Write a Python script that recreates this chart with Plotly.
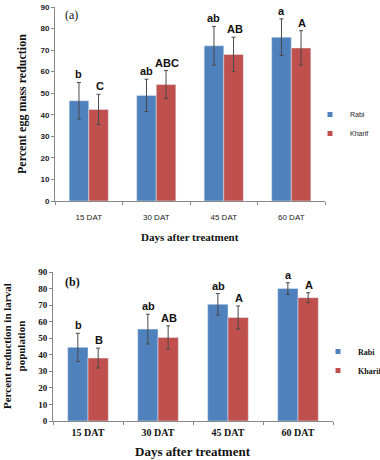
import plotly.graph_objects as go

categories = ["15 DAT", "30 DAT", "45 DAT", "60 DAT"]

# Panel (a): Percent egg mass reduction
a_rabi = [46.5, 49, 72, 76]
a_rabi_err = [8.5, 7.5, 9, 8.5]
a_kharif = [42.5, 54, 68, 71]
a_kharif_err = [7, 6.5, 8, 8]
a_rabi_letters = ["b", "ab", "ab", "a"]
a_kharif_letters = ["C", "ABC", "AB", "A"]

# Panel (b): Percent reduction in larval population
b_rabi = [44.5, 55.5, 70.5, 80]
b_rabi_err = [8.5, 9, 6.5, 3.5]
b_kharif = [38, 50.5, 62.5, 74.5]
b_kharif_err = [6, 7, 7, 3]
b_rabi_letters = ["b", "ab", "ab", "a"]
b_kharif_letters = ["B", "AB", "A", "A"]

series_names = ["Rabi", "Kharif"]

BLUE = "#4F81BD"
RED = "#C0504D"
ERR = dict(type="data", thickness=1, width=2, color="#4a4a4a")

fig = go.Figure()

fig.add_trace(go.Bar(x=categories, y=a_rabi, name="Rabi", marker_color=BLUE,
                     error_y=dict(array=a_rabi_err, **ERR), showlegend=False,
                     xaxis="x", yaxis="y"))
fig.add_trace(go.Bar(x=categories, y=a_kharif, name="Kharif", marker_color=RED,
                     error_y=dict(array=a_kharif_err, **ERR), showlegend=False,
                     xaxis="x", yaxis="y"))
fig.add_trace(go.Bar(x=categories, y=b_rabi, name="Rabi", marker_color=BLUE,
                     error_y=dict(array=b_rabi_err, **ERR), showlegend=False,
                     xaxis="x2", yaxis="y2"))
fig.add_trace(go.Bar(x=categories, y=b_kharif, name="Kharif", marker_color=RED,
                     error_y=dict(array=b_kharif_err, **ERR), showlegend=False,
                     xaxis="x2", yaxis="y2"))

# legend entries with small square keys
for lg, xa, ya in (("legend", "x", "y"), ("legend2", "x2", "y2")):
    for nm, col in zip(series_names, (BLUE, RED)):
        fig.add_trace(go.Scatter(x=[None], y=[None], mode="markers", name=nm,
                                 marker=dict(symbol="square", size=5, color=col),
                                 xaxis=xa, yaxis=ya, legend=lg, showlegend=True,
                                 hoverinfo="skip"))

annotations = []
sans_bold = "Liberation Sans"
serif = "Liberation Serif"

def letters(vals, errs, labs, xref, yref, shift, size):
    for c, v, e, t in zip(categories, vals, errs, labs):
        annotations.append(dict(x=c, y=v + e, xref=xref, yref=yref, text="<b>%s</b>" % t,
                                showarrow=False, xshift=shift, xanchor="center",
                                yanchor="bottom", yshift=0,
                                font=dict(family=sans_bold, size=size, color="#111")))

letters(a_rabi, a_rabi_err, a_rabi_letters, "x", "y", -10, 11)
letters(a_kharif, a_kharif_err, a_kharif_letters, "x", "y", 11, 11)
letters(b_rabi, b_rabi_err, b_rabi_letters, "x2", "y2", -10, 11)
letters(b_kharif, b_kharif_err, b_kharif_letters, "x2", "y2", 11, 11)

W, H = 380, 460
def px(xp): return xp / W
def py(yp): return 1 - yp / H

def note(x, y, text, size, angle=0, bold=True, family=serif, xa="center"):
    annotations.append(dict(x=px(x), y=py(y), xref="paper", yref="paper",
                            text=("<b>%s</b>" % text) if bold else text,
                            showarrow=False, textangle=angle,
                            xanchor=xa, yanchor="middle",
                            font=dict(family=family, size=size, color="#111")))

# Panel labels
note(63, 15, "(a)", 12, bold=False, xa="left")
note(63, 282, "(b)", 12, xa="left")
# Axis titles
note(190, 237, "Days after treatment", 11)
note(22, 104, "Percent egg mass reduction", 12, angle=-90)
note(193, 451, "Days after treatment", 13)
note(14, 346, "Percent reduction in larval<br>population", 11, angle=-90)

axis_common = dict(showgrid=False, zeroline=False, showline=True, linecolor="#888",
                   linewidth=1, ticks="outside", tickcolor="#888", ticklen=3)

fig.update_layout(
    width=W, height=H, margin=dict(l=0, r=0, t=0, b=0, autoexpand=False),
    paper_bgcolor="white", plot_bgcolor="white",
    barmode="group", bargap=0.42, bargroupgap=0,
    showlegend=True,
    xaxis=dict(domain=[px(55), px(325)], anchor="y", tickson="boundaries",
               ticklabelstandoff=8,
               tickfont=dict(family="Liberation Sans", size=8, color="#222"), **axis_common),
    yaxis=dict(domain=[py(201), py(7)], anchor="x", range=[0, 90], dtick=10,
               tickfont=dict(family="Liberation Sans", size=8, color="#222", weight="bold"),
               **axis_common),
    xaxis2=dict(domain=[px(53), px(333)], anchor="y2", tickson="boundaries",
                ticklabelstandoff=2,
                tickfont=dict(family=serif, size=10, color="#111", weight="bold"), **axis_common),
    yaxis2=dict(domain=[py(421), py(272)], anchor="x2", range=[0, 90], dtick=10,
                tickfont=dict(family=serif, size=9, color="#111", weight="bold"), **axis_common),
    legend=dict(x=px(310), y=py(124), xanchor="left", yanchor="middle",
                bgcolor="rgba(0,0,0,0)", itemwidth=30, itemsizing="trace",
                font=dict(family="Liberation Sans", size=7, color="#222")),
    legend2=dict(x=px(318), y=py(361), xanchor="left", yanchor="middle",
                 bgcolor="rgba(0,0,0,0)", itemwidth=30, itemsizing="trace",
                 font=dict(family=serif, size=8, color="#111", weight="bold")),
    annotations=annotations,
)

fig.write_html("out.html", config={"displayModeBar": False},
               post_script="document.body.style.margin='0';document.body.style.padding='0';")
